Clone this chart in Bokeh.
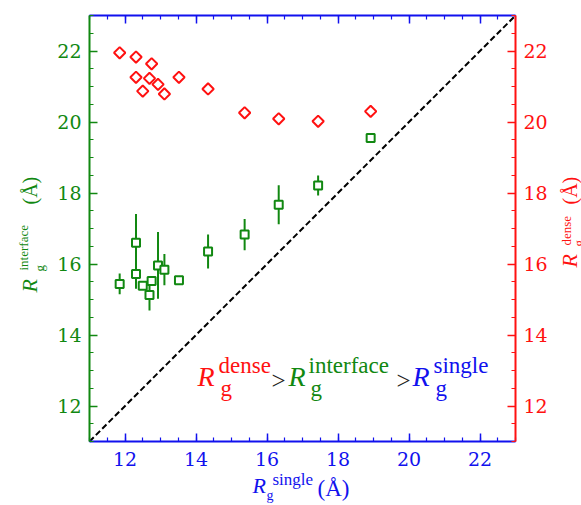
import numpy as np
from bokeh.plotting import figure
from bokeh.models import Range1d, LinearAxis, FixedTicker, Label, ColumnDataSource
from bokeh.embed import file_html
from bokeh.resources import INLINE

# ---- data ----
r_single = [11.85, 12.31, 12.31, 12.50, 12.75, 12.69, 12.93, 13.11, 13.52, 14.34, 15.37, 16.33, 17.44, 18.92]
r_dense = [21.95, 21.83, 21.26, 20.87, 21.64, 21.23, 21.06, 20.79, 21.26, 20.93, 20.26, 20.09, 20.02, 20.30]
x_interface = [11.85, 12.31, 12.31, 12.50, 12.75, 12.69, 12.93, 13.11, 13.52, 14.34, 15.37, 16.33, 17.44, 18.92]
r_interface = [15.44, 16.60, 15.72, 15.39, 15.52, 15.13, 15.96, 15.84, 15.54, 16.35, 16.83, 17.67, 18.21, 19.55]
err_interface = [0.29, 0.81, 0.42, 0.10, 0.10, 0.44, 0.94, 0.44, 0.08, 0.48, 0.44, 0.55, 0.28, 0.10]
axis_limits = [11, 23]
major_ticks = [12, 14, 16, 18, 20, 22]
minor_step = 0.5

GREEN = "#118811"
RED = "#ff1111"
BLUE = "#1111ee"

W, H = 581, 505
# pixel box of the axes area inside the canvas
PX_L, PX_R, PX_T, PX_B = 89, 515, 15, 441
lo, hi = axis_limits
sx = (PX_R - PX_L) / (hi - lo)
sy = (PX_B - PX_T) / (hi - lo)
xr = Range1d(lo - PX_L / sx, hi + (W - PX_R) / sx)
yr = Range1d(lo - (H - PX_B) / sy, hi + PX_T / sy)

p = figure(width=W, height=H, output_backend="svg", toolbar_location=None,
           x_range=xr, y_range=yr, x_axis_location=None, y_axis_location=None,
           min_border=0, min_border_left=0, min_border_right=0,
           min_border_top=0, min_border_bottom=0)
p.extra_y_ranges = {"dense": Range1d(yr.start, yr.end)}
p.grid.visible = False
p.outline_line_color = None
p.background_fill_color = "white"
p.border_fill_color = "white"

minor = list(np.arange(lo, hi + 0.001, minor_step))
ticker = FixedTicker(ticks=major_ticks, minor_ticks=minor)


def style_axis(ax, color, show_labels=True):
    ax.ticker = ticker
    ax.bounds = (lo, hi)
    ax.axis_line_color = color
    ax.axis_line_width = 2
    ax.major_tick_line_color = color
    ax.minor_tick_line_color = color
    ax.major_tick_line_width = 1.5
    ax.minor_tick_line_width = 1.2
    ax.major_tick_in = 8
    ax.major_tick_out = 0
    ax.minor_tick_in = 4
    ax.minor_tick_out = 0
    ax.major_label_text_color = color
    ax.major_label_text_font = "DejaVu Serif"
    ax.major_label_text_font_size = "19px"
    ax.major_label_standoff = 8
    if not show_labels:
        ax.major_label_overrides = {t: "" for t in major_ticks}
        ax.major_label_standoff = 0


bottom = LinearAxis(fixed_location=lo)
style_axis(bottom, BLUE)
bottom.major_label_standoff = 10
p.add_layout(bottom, "below")

top = LinearAxis(fixed_location=hi)
style_axis(top, BLUE, show_labels=False)
p.add_layout(top, "above")

left = LinearAxis(fixed_location=lo)
style_axis(left, GREEN)
p.add_layout(left, "left")

right = LinearAxis(y_range_name="dense", fixed_location=hi)
style_axis(right, RED)
p.add_layout(right, "right")

# diagonal y = x
p.line(axis_limits, axis_limits, line_color="black", line_width=2, line_dash="6 3")

# interface points with error bars
src = ColumnDataSource(dict(
    x=x_interface, y=r_interface,
    lo=[v - e for v, e in zip(r_interface, err_interface)],
    hi=[v + e for v, e in zip(r_interface, err_interface)]))
p.segment(x0="x", y0="lo", x1="x", y1="hi", source=src, line_color=GREEN, line_width=2)
p.scatter(x="x", y="y", source=src, marker="square", size=8, line_color=GREEN,
          line_width=2, fill_color="white")

# dense points
p.scatter(r_single, r_dense, y_range_name="dense", marker="square", angle=np.pi / 4,
          size=8, line_color=RED, line_width=2, fill_color="white")

ADJ = 0.42


def txt(X, Y, s, size, color, style="normal", angle=0.0, font="Liberation Serif"):
    if angle == 0:
        x, y = X, H - Y + ADJ * size
    else:
        x, y = X - ADJ * size, H - Y
    p.add_layout(Label(x=x, y=y, x_units="screen", y_units="screen",
                       text=s, text_font=font, text_font_size=f"{size}px",
                       text_color=color, text_font_style=style,
                       text_baseline="alphabetic", text_align="left", angle=angle))


# in-plot relation text
txt(197, 388, "R", 28, RED, "italic")
txt(218, 375, "dense", 23, RED)
txt(220, 398, "g", 23, RED)
txt(271, 390, ">", 25, "#222222")
txt(288, 388, "R", 28, GREEN, "italic")
txt(308, 375, "interface", 23, GREEN)
txt(310, 398, "g", 23, GREEN)
txt(396, 390, ">", 25, "#222222")
txt(412, 388, "R", 28, BLUE, "italic")
txt(433, 375, "single", 23, BLUE)
txt(435, 398, "g", 23, BLUE)

# bottom axis title
txt(252, 494, "R", 22, BLUE, "italic")
txt(272, 486, "single", 17, BLUE)
txt(266, 501, "g", 14, BLUE)
txt(317, 498, "(Å)", 23, BLUE)

# left axis title (rotated)
A = np.pi / 2
txt(38, 292, "R", 22, GREEN, "italic", A)
txt(28, 270, "interface", 13, GREEN, "normal", A)
txt(44, 271, "g", 13, GREEN, "normal", A)
txt(38, 204, "(Å)", 20, GREEN, "normal", A)

# right axis title (rotated, partly outside window)
txt(578, 267, "R", 22, RED, "italic", A)
txt(571, 245, "dense", 13, RED, "normal", A)
txt(583, 246, "g", 13, RED, "normal", A)
txt(578, 204, "(Å)", 20, RED, "normal", A)

open("out.html", "w").write(file_html(p, INLINE))
